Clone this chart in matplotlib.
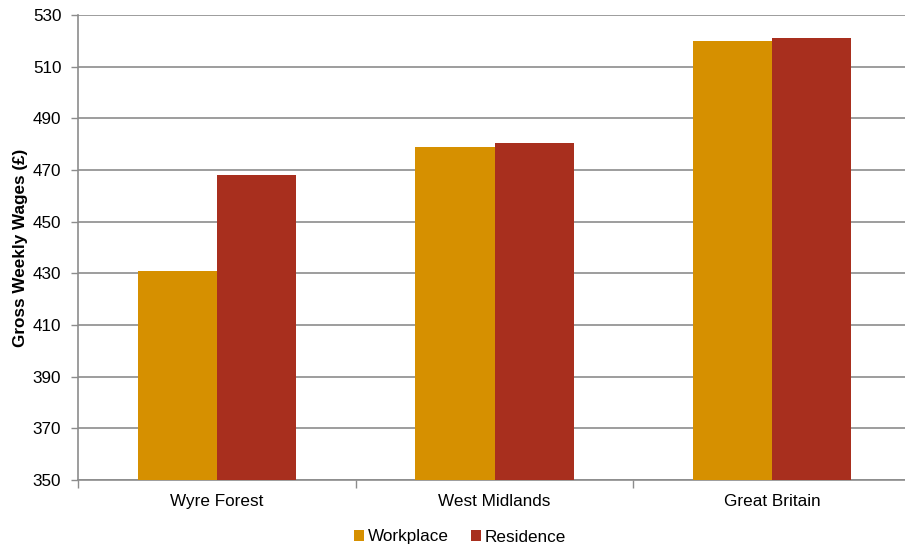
import numpy as np
import matplotlib
matplotlib.use('Agg')
import matplotlib.pyplot as plt

categories = ['Wyre Forest', 'West Midlands', 'Great Britain']
workplace = [431, 479, 520]
residence = [468, 480.5, 521]
series_names = ['Workplace', 'Residence']
y_ticks = [350, 370, 390, 410, 430, 450, 470, 490, 510, 530]

plt.rcParams['font.family'] = ['Liberation Sans', 'DejaVu Sans']

fig = plt.figure(figsize=(9.05, 5.46), dpi=100)
ax = fig.add_axes([78 / 905, 1 - 480 / 546, (911 - 78) / 905, 465 / 546])

x = np.arange(len(categories))
w = 0.2857
ax.bar(x - w / 2, workplace, w, color='#D69000', label=series_names[0], zorder=3)
ax.bar(x + w / 2, residence, w, color='#A82F1E', label=series_names[1], zorder=3)

ax.set_ylim(350, 530)
ax.set_xlim(-0.5, 2.5)
ax.set_yticks(y_ticks)
ax.yaxis.grid(True, color='#8c8c8c', linewidth=1.2, zorder=0)
ax.set_axisbelow(True)

# category boundaries as tick marks, labels centred in between
ax.set_xticks([-0.5, 0.5, 1.5, 2.5])
ax.set_xticklabels([])
ax.set_xticks(x, minor=True)
ax.set_xticklabels(categories, minor=True)
ax.tick_params(axis='x', which='major', length=6, color='#8c8c8c', width=1)
ax.tick_params(axis='x', which='minor', length=0, pad=10, labelsize=12.3)
ax.tick_params(axis='y', length=5, color='#8c8c8c', width=1, labelsize=12.3, pad=7)

for s in ['top', 'right']:
    ax.spines[s].set_visible(False)
for s in ['left', 'bottom']:
    ax.spines[s].set_color('#8c8c8c')
    ax.spines[s].set_linewidth(1.2)

ax.set_ylabel('Gross Weekly Wages (£)', fontsize=12.3, fontweight='bold')
ax.yaxis.set_label_coords(-0.060, 0.5)

fig.legend(loc='center', bbox_to_anchor=(460 / 905, 1 - 537 / 546), ncol=2,
           frameon=False, fontsize=12.3, handlelength=0.6, handleheight=0.6,
           handletextpad=0.2, columnspacing=1.3)

fig.savefig('out.png', dpi=100)
